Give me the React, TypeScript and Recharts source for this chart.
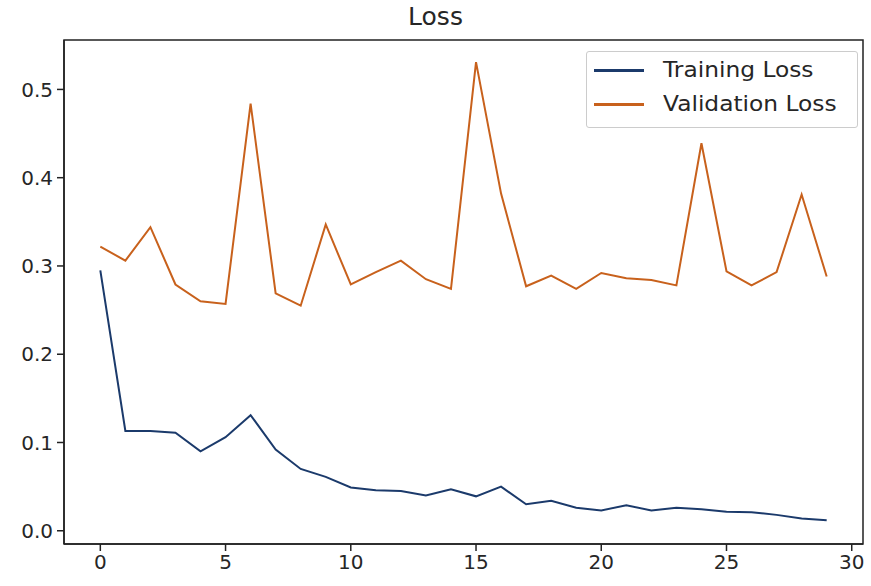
import React from "react";
import { LineChart, Line, XAxis, YAxis, ReferenceArea } from "recharts";

const epochs = [0,1,2,3,4,5,6,7,8,9,10,11,12,13,14,15,16,17,18,19,20,21,22,23,24,25,26,27,28,29];
const trainingLoss = [0.295,0.113,0.113,0.111,0.090,0.106,0.131,0.092,0.070,0.061,0.049,0.046,0.045,0.040,0.047,0.039,0.050,0.030,0.034,0.026,0.023,0.029,0.023,0.026,0.0245,0.0215,0.021,0.018,0.014,0.012];
const validationLoss = [0.322,0.306,0.344,0.279,0.260,0.257,0.484,0.269,0.255,0.347,0.279,0.293,0.306,0.285,0.274,0.531,0.382,0.277,0.289,0.274,0.292,0.286,0.284,0.278,0.439,0.294,0.278,0.293,0.381,0.288];
const xTicks = [0,5,10,15,20,25,30];
const yTicks = [0,0.1,0.2,0.3,0.4,0.5];
const seriesNames = ["Training Loss", "Validation Loss"];
const colors = ["#1b3a6b", "#c8611c"];

const data = epochs.map((e, i) => ({ epoch: e, train: trainingLoss[i], val: validationLoss[i] }));

const FONT = "'DejaVu Sans', sans-serif";
const TEXT = "#262626";
const X_DOMAIN: [number, number] = [-1.45, 30.45];
const Y_DOMAIN: [number, number] = [-0.015, 0.556];

const LegendBox = () => (
  <div style={{ position: "absolute", left: 586, top: 51, width: 263, height: 74, border: "1px solid #cccccc", borderRadius: 3, background: "rgba(255,255,255,0.8)", padding: "1px 0 0 7px", boxSizing: "content-box", fontFamily: FONT, fontSize: 21, color: TEXT, lineHeight: "34px" }}>
    {seriesNames.map((n, i) => (
      <div key={n} style={{ display: "flex", alignItems: "center", height: 34 }}>
        <span style={{ display: "inline-block", width: 50, height: 3, background: colors[i], marginRight: 19 }} />
        <span style={{ display: "inline-block", transform: "scaleX(1.11)", transformOrigin: "left center", whiteSpace: "nowrap" }}>{n}</span>
      </div>
    ))}
  </div>
);

export default function App() {
  return (
    <div style={{ position: "absolute", left: 0, top: 0, width: 871, height: 586, background: "#fff" }}>
      <div style={{ position: "absolute", left: 0, top: 2, width: 871, textAlign: "center", fontFamily: FONT, fontSize: 25, color: TEXT, lineHeight: "30px" }}>Loss</div>
      <LineChart width={871} height={586} data={data} margin={{ top: 40, right: 8, bottom: 2, left: 0 }}>
        <XAxis dataKey="epoch" type="number" domain={X_DOMAIN} ticks={xTicks} allowDataOverflow
          height={40} tickLine={{ stroke: "#222", strokeWidth: 1.5 }} tickSize={7}
          axisLine={{ stroke: "#222", strokeWidth: 1.5 }}
          tick={{ fontFamily: FONT, fontSize: 20, fill: TEXT }} tickMargin={4} />
        <YAxis type="number" domain={Y_DOMAIN} ticks={yTicks} allowDataOverflow width={64}
          tickFormatter={(v: number) => v.toFixed(1)}
          tickLine={{ stroke: "#222", strokeWidth: 1.5 }} tickSize={7}
          axisLine={{ stroke: "#222", strokeWidth: 1.5 }}
          tick={{ fontFamily: FONT, fontSize: 20, fill: TEXT }} tickMargin={4} />
        <ReferenceArea x1={X_DOMAIN[0]} x2={X_DOMAIN[1]} y1={Y_DOMAIN[0]} y2={Y_DOMAIN[1]} fill="none" fillOpacity={0} stroke="#222" strokeWidth={1.5} ifOverflow="visible" />
        <Line type="linear" dataKey="train" name={seriesNames[0]} stroke={colors[0]} strokeWidth={2} dot={false} isAnimationActive={false} />
        <Line type="linear" dataKey="val" name={seriesNames[1]} stroke={colors[1]} strokeWidth={2} dot={false} isAnimationActive={false} />
      </LineChart>
      <LegendBox />
    </div>
  );
}
